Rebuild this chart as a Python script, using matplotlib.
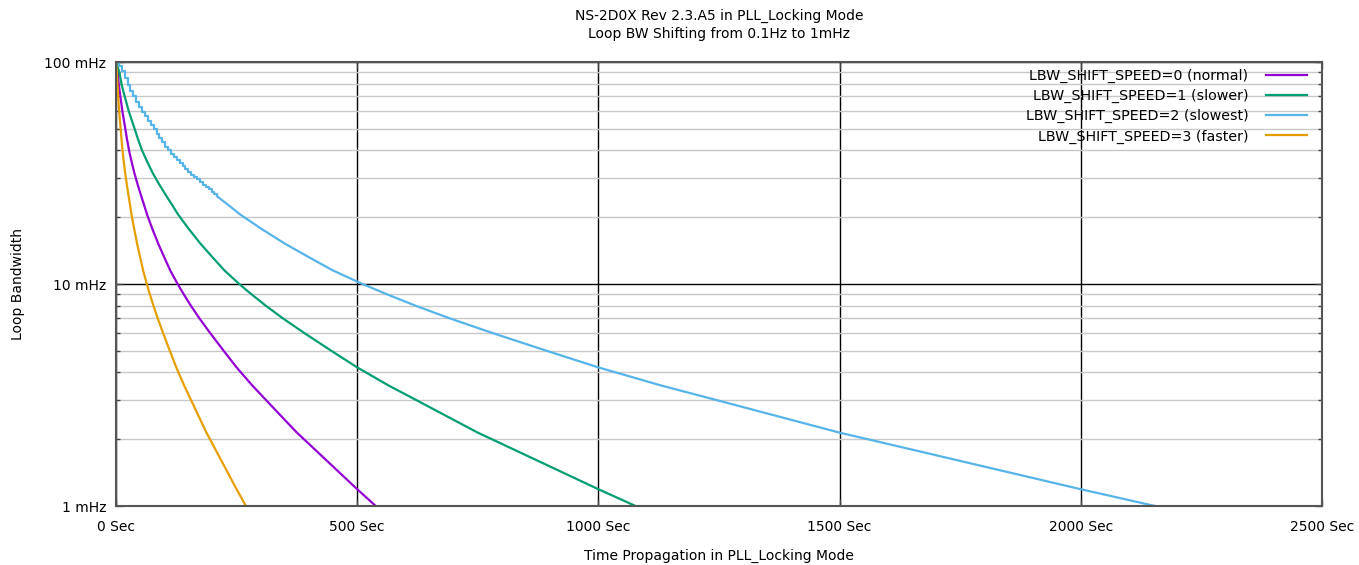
import matplotlib
matplotlib.use('Agg')
import matplotlib.pyplot as plt
from matplotlib.ticker import FixedLocator, NullFormatter, FuncFormatter

# bandwidth levels (mHz) read at the times listed for each speed setting
bw_levels = [100, 90, 80.5, 74, 67.5, 60, 54.8, 50.5, 45.3, 40, 35.8, 31.5, 28.0,
             24.8, 22.5, 20.6, 17.8, 15.2, 13.2, 11.5, 10, 9, 8, 7, 6, 5, 4.21,
             3.5, 3, 2.14, 2, 1.19, 1]

t_speed0 = [0, 3.5, 5.5, 7.5, 10, 13.25, 16.25, 19, 22.5, 27, 32, 38.25, 45, 52.5,
            58.75, 64.25, 75, 87.5, 100, 112.5, 127.75, 140.25, 155, 173, 195.5,
            223.25, 250, 282, 311, 375, 389.5, 500, 538.5]
t_speed1 = [0, 7, 11, 15, 20, 26.5, 32.5, 38, 45, 54, 64, 76.5, 90, 105, 117.5,
            128.5, 150, 175, 200, 225, 255.5, 280.5, 310, 346, 391, 446.5, 500,
            564, 622.5, 750, 779, 1000, 1077]
t_speed3 = [0, 1.75, 2.75, 3.75, 5, 6.6, 8.1, 9.5, 11.25, 13.5, 16, 19.1, 22.5,
            26.25, 29.4, 32.1, 37.5, 43.75, 50, 56.25, 63.9, 70.1, 77.5, 86.5, 97.75,
            111.6, 125, 141, 155.6, 187.5, 194.75, 250, 269.25]

# speed 2: staircase at the start, smooth afterwards
t_speed2_steps = [0, 6, 12, 18, 24, 30, 36, 42, 48, 54, 60, 66, 72, 78, 84, 90, 96,
                  102, 108, 114, 120, 126, 132, 138, 144, 150, 156, 162, 168, 174,
                  180, 186, 192, 198, 204, 210]
bw_speed2_steps = [100, 96, 91.5, 85, 78.8, 74, 70, 66.3, 62.8, 59.5, 56.9, 54.4,
                   52, 49.8, 47.4, 45.3, 43.4, 41.6, 40, 38.7, 37.4, 36.2, 35.1, 34.0,
                   33, 32, 31.1, 30.3, 29.6, 28.8, 28.0, 27.3, 26.7, 26.1, 25.4, 24.8]
t_speed2 = [210, 235, 257, 300, 350, 400, 450, 511, 561, 620, 692, 782, 893, 1000,
            1128, 1245, 1500, 1558, 2000, 2154]
bw_speed2 = [24.8, 22.5, 20.6, 17.8, 15.2, 13.2, 11.5, 10, 9, 8, 7, 6, 5, 4.21,
             3.5, 3, 2.14, 2, 1.19, 1]

labels = ['LBW_SHIFT_SPEED=0 (normal)', 'LBW_SHIFT_SPEED=1 (slower)',
          'LBW_SHIFT_SPEED=2 (slowest)', 'LBW_SHIFT_SPEED=3 (faster)']
colors = ['#9400d3', '#009e73', '#56b4e9', '#e69f00']

plt.rcParams['font.family'] = ['DejaVu Sans']
plt.rcParams['font.size'] = 10

fig = plt.figure(figsize=(13.59, 5.65), dpi=100)
ax = fig.add_axes([116/1359, 59/565, 1206/1359, 444/565])

lw = 1.6
ax.plot(t_speed0, bw_levels, color=colors[0], lw=lw, label=labels[0])
ax.plot(t_speed1, bw_levels, color=colors[1], lw=lw, label=labels[1])
ax.plot(t_speed2_steps, bw_speed2_steps, color=colors[2], lw=lw,
        drawstyle='steps-post', label=labels[2])
ax.plot(t_speed2, bw_speed2, color=colors[2], lw=lw)
ax.plot(t_speed3, bw_levels, color=colors[3], lw=lw, label=labels[3])

ax.set_yscale('log')
ax.set_xlim(0, 2500)
ax.set_ylim(1, 100)

ax.xaxis.set_major_locator(FixedLocator([0, 500, 1000, 1500, 2000, 2500]))
ax.xaxis.set_major_formatter(FuncFormatter(lambda v, p: '%d Sec' % v))
ax.yaxis.set_major_locator(FixedLocator([1, 10, 100]))
ax.yaxis.set_major_formatter(FuncFormatter(lambda v, p: '%d mHz' % round(v)))
minors = [m * d for d in (1, 10) for m in range(2, 10)]
ax.yaxis.set_minor_locator(FixedLocator(minors))
ax.yaxis.set_minor_formatter(NullFormatter())

ax.grid(which='major', color='black', lw=1.0)
ax.grid(which='minor', axis='y', color='#c8c8c8', lw=1.0)
ax.set_axisbelow(True)

ax.tick_params(which='both', direction='in', top=True, right=True,
               color='#444444', labelsize=10)
ax.tick_params(which='major', length=5, width=1)
ax.tick_params(which='minor', length=3, width=1)
ax.tick_params(axis='x', pad=10)
ax.tick_params(axis='y', pad=7)
for s in ax.spines.values():
    s.set_color('#555555')
    s.set_linewidth(1.5)
    s.set_zorder(5)

fig.text(719/1359, 1 - 16/565, 'NS-2D0X Rev 2.3.A5 in PLL_Locking Mode',
         ha='center', va='center', fontsize=10)
fig.text(719/1359, 1 - 34/565, 'Loop BW Shifting from 0.1Hz to 1mHz',
         ha='center', va='center', fontsize=10)
ax.set_xlabel('Time Propagation in PLL_Locking Mode', fontsize=10, labelpad=11)
ax.set_ylabel('Loop Bandwidth', fontsize=10, labelpad=14)

leg = ax.legend(loc='upper right', frameon=False, markerfirst=False,
                bbox_to_anchor=((1307 - 116) / 1206, (506 - 69) / 444),
                handlelength=2.9, handletextpad=1.2, labelspacing=0.42,
                borderaxespad=0, borderpad=0, fontsize=10.3)

fig.savefig('out.png', dpi=100)
